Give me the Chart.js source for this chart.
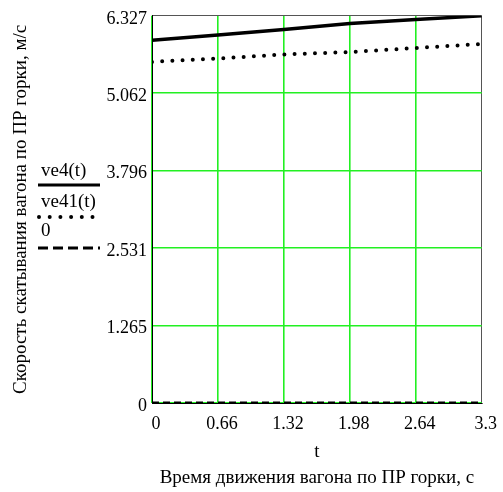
<!DOCTYPE html>
<html>
<head>
<meta charset="utf-8">
<script src="https://cdn.jsdelivr.net/npm/chart.js@4"></script>
<style>
    html, body { margin: 0; padding: 0; background: #fff; }
    #chart { display: block; }
</style>
</head>
<body>
<canvas id="chart" width="503" height="492"></canvas>
<script>
// time, s
var tValues = [0, 0.66, 1.32, 1.98, 2.64, 3.3];
// speeds, m/s
var ve4 = [5.928, 6.014, 6.102, 6.2, 6.265, 6.327];
var ve41 = [5.574, 5.63, 5.695, 5.735, 5.8, 5.868];
var zeroLine = [0, 0, 0, 0, 0, 0];

var xTicks = [0, 0.66, 1.32, 1.98, 2.64, 3.3];
var xTickLabels = ["0", "0.66", "1.32", "1.98", "2.64", "3.3"];
var yTicks = [0, 1.265, 2.531, 3.796, 5.062, 6.327];
var yTickLabels = ["0", "1.265", "2.531", "3.796", "5.062", "6.327"];

var legendNames = ["ve4(t)", "ve41(t)", "0"];

var FONT = "'Liberation Serif', 'Times New Roman', serif";
var GREEN = "#22f022";
var EDGE = "#555555";

function points(ys) {
    var out = [];
    for (var i = 0; i < tValues.length; i++) {
        out.push({x: tValues[i], y: ys[i]});
    }
    return out;
}

// inner lines green, last one (top / right edge of the box) dark
function gridColors(n) {
    var c = [];
    for (var i = 0; i < n; i++) c.push(i == n - 1 ? EDGE : GREEN);
    return c;
}
function gridWidths(n) {
    var w = [];
    for (var i = 0; i < n; i++) w.push(i == n - 1 ? 1 : 1.6);
    return w;
}

// legend drawn by hand, Mathcad style: name above a line sample
var mathcadLegend = {
    id: "mathcadLegend",
    afterDraw: function (chart) {
        var ctx = chart.ctx;
        var rows = [
            {textY: 176, lineY: 185, dash: [], width: 3, cap: "butt", x0: 38, x1: 100},
            {textY: 207, lineY: 217, dash: [0, 10.7], width: 4, cap: "round", x0: 39, x1: 94},
            {textY: 236, lineY: 248, dash: [10, 5], width: 3, cap: "butt", x0: 38, x1: 100}
        ];
        ctx.save();
        ctx.fillStyle = "#000";
        ctx.font = "19px " + FONT;
        ctx.textBaseline = "alphabetic";
        ctx.textAlign = "left";
        for (var i = 0; i < rows.length; i++) {
            var r = rows[i];
            ctx.fillText(legendNames[i], 41, r.textY);
            ctx.beginPath();
            ctx.setLineDash(r.dash);
            ctx.lineWidth = r.width;
            ctx.lineCap = r.cap;
            ctx.strokeStyle = "#000";
            ctx.moveTo(r.x0, r.lineY);
            ctx.lineTo(r.x1, r.lineY);
            ctx.stroke();
        }
        ctx.restore();
    }
};

var chart = new Chart(document.getElementById("chart"), {
    type: "line",
    data: {
        datasets: [{
            label: legendNames[0],
            data: points(ve4),
            borderColor: "#000",
            borderWidth: 3.5,
            pointRadius: 0,
            tension: 0
        }, {
            label: legendNames[1],
            data: points(ve41),
            borderColor: "#000",
            borderWidth: 4,
            borderDash: [0, 10.2],
            borderCapStyle: "round",
            pointRadius: 0,
            tension: 0
        }, {
            label: legendNames[2],
            data: points(zeroLine),
            borderColor: "#000",
            borderWidth: 3,
            borderDash: [7, 4],
            pointRadius: 0,
            tension: 0
        }]
    },
    options: {
        responsive: false,
        animation: false,
        devicePixelRatio: 1,
        layout: {padding: {top: 15, right: 19, left: 0, bottom: 0}},
        plugins: {
            legend: {display: false},
            tooltip: {enabled: false}
        },
        scales: {
            x: {
                type: "linear",
                min: 0,
                max: 3.3,
                afterBuildTicks: function (scale) {
                    scale.ticks = xTicks.map(function (v) { return {value: v}; });
                },
                afterFit: function (scale) { scale.height = 89; },
                ticks: {
                    autoSkip: false,
                    maxRotation: 0,
                    padding: 10,
                    labelOffset: 4,
                    color: "#000",
                    font: {family: FONT, size: 18},
                    callback: function (v, i) { return xTickLabels[i]; }
                },
                grid: {
                    drawTicks: false,
                    lineWidth: gridWidths(xTicks.length),
                    color: gridColors(xTicks.length)
                },
                border: {color: "#000", width: 1},
                title: {
                    display: true,
                    text: ["t", "Время движения вагона по ПР горки, с"],
                    color: "#000",
                    font: {family: FONT, size: 19, lineHeight: "26px"},
                    padding: {top: 0, bottom: 1}
                }
            },
            y: {
                min: 0,
                max: 6.327,
                afterBuildTicks: function (scale) {
                    scale.ticks = yTicks.map(function (v) { return {value: v}; });
                },
                afterFit: function (scale) { scale.width = 152; },
                ticks: {
                    padding: 5,
                    labelOffset: 3,
                    color: "#000",
                    font: {family: FONT, size: 18},
                    callback: function (v, i) { return yTickLabels[i]; }
                },
                grid: {
                    drawTicks: false,
                    lineWidth: gridWidths(yTicks.length),
                    color: gridColors(yTicks.length)
                },
                border: {color: "#000", width: 1},
                title: {
                    display: true,
                    text: "Скорость скатывания вагона по ПР горки, м/с",
                    color: "#000",
                    font: {family: FONT, size: 19},
                    padding: {top: 10, bottom: 0}
                }
            }
        }
    },
    plugins: [mathcadLegend]
});
</script>
</body>
</html>
